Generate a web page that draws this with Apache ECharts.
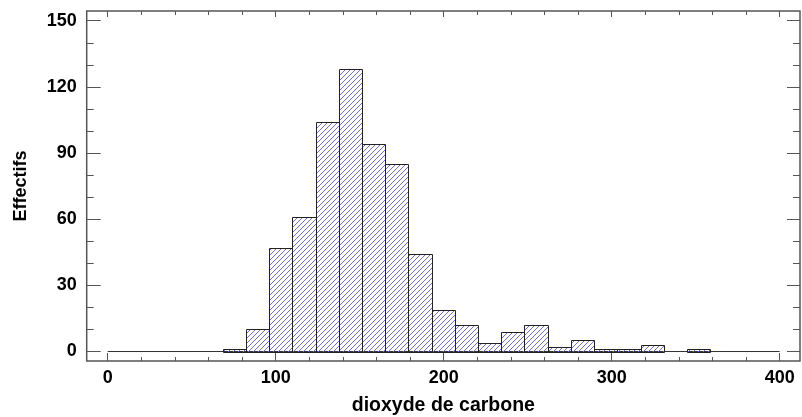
<!DOCTYPE html>
<html>
<head>
<meta charset="utf-8">
<script src="https://cdn.jsdelivr.net/npm/echarts@6/dist/echarts.min.js"></script>
<style>html,body{margin:0;padding:0;background:#fff;}#c{width:802px;height:417px;}</style>
</head>
<body>
<div id="c"></div>
<script>
// Histogram class edges
const binEdges = [68.4, 82.2, 96.0, 109.9, 123.7, 137.5, 151.3, 165.1, 179.0, 192.8, 206.6,
                  220.4, 234.2, 248.1, 261.9, 275.7, 289.5, 303.3, 317.2, 331.0, 344.8, 358.6];
// Frequencies per class
const counts = [1, 10, 47, 61, 104, 128, 94, 85, 44, 19, 12, 4, 9, 12, 2, 5, 1, 1, 3, 0, 1];
const xTicks = [0, 100, 200, 300, 400];
const xMinorTicks = [20, 40, 60, 80, 120, 140, 160, 180, 220, 240, 260, 280, 320, 340, 360, 380];
const yTicks = [0, 30, 60, 90, 120, 150];
const yMinorTicks = [10, 20, 40, 50, 70, 80, 100, 110, 130, 140];
const xRange = [-12.5, 412.1];
const yRange = [-4.3, 154.4];
const xTitle = 'dioxyde de carbone';
const yTitle = 'Effectifs';

const histData = counts.map((c, i) => [binEdges[i], binEdges[i + 1], c]);

// hatch pattern
const pc = document.createElement('canvas');
pc.width = 5; pc.height = 5;
const g = pc.getContext('2d');
g.strokeStyle = '#6a6aff';
g.lineWidth = 1;
g.beginPath();
g.moveTo(0, 5); g.lineTo(5, 0);
g.moveTo(-1, 1); g.lineTo(1, -1);
g.moveTo(4, 6); g.lineTo(6, 4);
g.stroke();
const hatch = { image: pc, repeat: 'repeat' };

const font = { fontFamily: 'Liberation Sans, Arial, sans-serif', fontWeight: 'bold', fontSize: 18, color: '#000' };
const frameColor = '#555';
const gridRect = { left: 86.7, right: 2, top: 11, bottom: 56 };

function xAx(gi, pos, ticks, len, opts) {
  return Object.assign({
    type: 'value', gridIndex: gi, position: pos,
    min: xRange[0], max: xRange[1],
    axisLine: { show: false, onZero: false },
    axisTick: { show: true, inside: true, length: len, customValues: ticks, lineStyle: { color: frameColor } },
    axisLabel: { show: false },
    splitLine: { show: false }
  }, opts || {});
}
function yAx(gi, pos, ticks, len, opts) {
  return Object.assign({
    type: 'value', gridIndex: gi, position: pos,
    min: yRange[0], max: yRange[1],
    axisLine: { show: false, onZero: false },
    axisTick: { show: true, inside: true, length: len, customValues: ticks, lineStyle: { color: frameColor } },
    axisLabel: { show: false },
    splitLine: { show: false }
  }, opts || {});
}

const chart = echarts.init(document.getElementById('c'), null, { renderer: 'canvas' });
chart.setOption({
  animation: false,
  backgroundColor: '#fff',
  grid: [
    Object.assign({ containLabel: false, outerBoundsMode: 'none', show: true, borderColor: frameColor, borderWidth: 1.5, backgroundColor: 'transparent' }, gridRect),
    Object.assign({ containLabel: false, outerBoundsMode: 'none' }, gridRect)
  ],
  xAxis: [
    xAx(0, 'bottom', xTicks, 8, {
      axisLabel: { show: true, customValues: xTicks, ...font, margin: 8 },
      name: xTitle, nameLocation: 'middle', nameGap: 35,
      nameTextStyle: { ...font, fontSize: 19.5 }
    }),
    xAx(0, 'top', xTicks, 6),
    xAx(1, 'bottom', xMinorTicks, 4),
    xAx(1, 'top', xMinorTicks, 4)
  ],
  yAxis: [
    yAx(0, 'left', yTicks, 14, {
      axisLabel: { show: true, customValues: yTicks, ...font, margin: 10 },
      name: yTitle, nameLocation: 'middle', nameRotate: 90, nameGap: 57,
      nameTextStyle: { ...font, fontSize: 18 }
    }),
    yAx(0, 'right', yTicks, 13),
    yAx(1, 'left', yMinorTicks, 7),
    yAx(1, 'right', yMinorTicks, 7)
  ],
  series: [
    {
      type: 'line', xAxisIndex: 0, yAxisIndex: 0,
      data: [[xTicks[0], 0], [xTicks[xTicks.length - 1], 0]],
      symbol: 'none', lineStyle: { color: '#333', width: 1 }, z: 1, silent: true
    },
    {
      type: 'custom', xAxisIndex: 0, yAxisIndex: 0, z: 2,
      data: histData,
      renderItem: function (params, api) {
        const x0 = api.value(0), x1 = api.value(1), v = api.value(2);
        if (!v) return null;
        const p0 = api.coord([x0, 0]);
        const p1 = api.coord([x1, v]);
        return {
          type: 'rect',
          shape: { x: Math.round(p0[0]) + 0.5, y: Math.round(p1[1]) + 0.5, width: Math.round(p1[0]) - Math.round(p0[0]), height: Math.round(p0[1]) - Math.round(p1[1]) },
          style: { fill: hatch, stroke: '#222', lineWidth: 1 }
        };
      }
    }
  ]
});
</script>
</body>
</html>
